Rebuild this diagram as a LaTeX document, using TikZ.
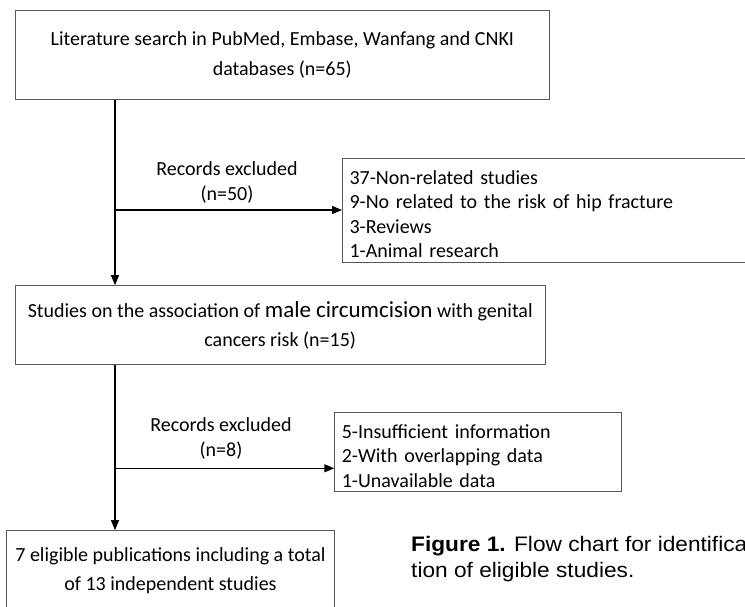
\documentclass[tikz,border=0pt]{standalone}
\usepackage{fontspec}
\setmainfont{Carlito}
\newfontfamily\captionfont[FakeStretch=1.08]{Liberation Sans}
\usetikzlibrary{
    arrows.meta,
    positioning,
    calc,
}
\definecolor{boxgray}{RGB}{88,88,88}

\begin{document}
\begin{tikzpicture}[
    x=1pt, y=-1pt,
    box/.style={draw=boxgray, rectangle, line width=1.1pt, align=center,
                font=\fontsize{20}{29}\selectfont, inner sep=0pt},
    listbox/.style={draw=boxgray, rectangle, line width=1.1pt, align=left, anchor=west,
                font=\fontsize{20}{24.4}\selectfont, inner xsep=7pt, inner ysep=0pt},
    note/.style={align=center, font=\fontsize{20}{25}\selectfont, inner sep=0pt},
    flow/.style={-{Triangle[length=10pt,width=8pt]}, line width=1.1pt}
]
\useasboundingbox (0,0) rectangle (745,607);

\node[box, minimum width=534pt, minimum height=89pt, font=\fontsize{20}{30}\selectfont]
    (search) at (282.3,55.4)
    {Literature search in PubMed, Embase, Wanfang and CNKI\\ databases (n=65)};

\node[box, minimum width=529.7pt, minimum height=78.6pt]
    (studies) at (280.2,325)
    {Studies on the association of {\fontsize{23}{29}\selectfont male circumcision} with genital\\ cancers risk (n=15)};

\node[box, minimum width=327.6pt, minimum height=79pt]
    (eligible) at (170.5,570.2)
    {7 eligible publications including a total\\ of 13 independent studies};

% the list texts sit low in their boxes
\node[listbox, minimum height=103.7pt, text width=416pt] (excludedA) at (342,210.2)
    {\rule{0pt}{22pt}37-Non-related studies\\
     9-No related to the risk of hip fracture\\
     3-Reviews\\
     1-Animal research};

\node[listbox, minimum height=79pt, text width=272.4pt] (excludedB) at (334.3,452.2)
    {\rule{0pt}{21.5pt}5-Insufficient information\\
     2-With overlapping data\\
     1-Unavailable data};

\node[note] (recordsA) at (227,182.5) {Records excluded\\(n=50)};
\node[note] (recordsB) at (221,438.5) {Records excluded\\(n=8)};

\coordinate (splitA) at (115,210);
\coordinate (splitB) at (115,468.3);

\draw[flow] (search.south -| splitA) -- (studies.north -| splitA);
\draw[flow] (splitA) -- (splitA -| excludedA.west);
\draw[flow] (studies.south -| splitB) -- (eligible.north -| splitB);
\draw[flow] (splitB) -- (splitB -| excludedB.west);

\node[anchor=north west, align=left, inner sep=0pt,
      font=\captionfont\fontsize{21}{26.3}\selectfont] (caption) at (411,536)
    {\textbf{Figure 1.} Flow chart for identifica-\\tion of eligible studies.};

\end{tikzpicture}
\end{document}
